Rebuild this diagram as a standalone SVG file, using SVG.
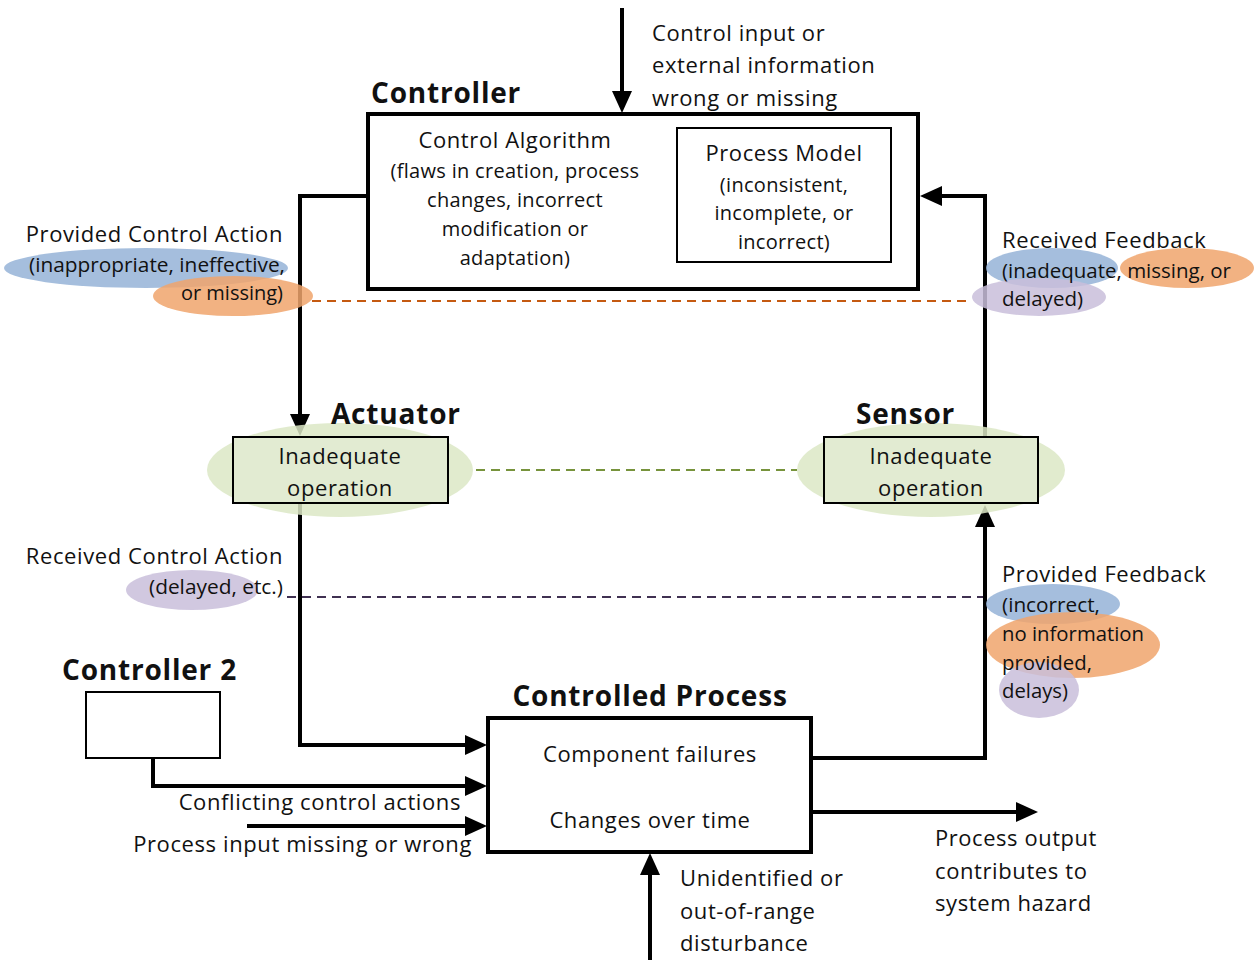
<svg xmlns="http://www.w3.org/2000/svg" width="1255" height="960" viewBox="0 0 1255 960">
  <style>
    text { font-family: "Open Sans", "Liberation Sans", sans-serif; fill: #111; }
    .t { font-size: 22px; letter-spacing: 0.6px; }
    .s { font-size: 20px; letter-spacing: 0.3px; }
    .n { font-size: 20.5px; letter-spacing: 0; }
    .h { font-size: 28px; font-weight: bold; letter-spacing: 0.8px; }
    .mid { text-anchor: middle; }
    .end { text-anchor: end; }
    .box { fill: #fff; stroke: #000; }
    .thick { stroke-width: 4; }
    .thin { stroke-width: 2; }
    .wire { fill: none; stroke: #000; stroke-width: 4; }
    .blue { fill: #95b3d7; fill-opacity: 0.85; }
    .orange { fill: #f0a46c; fill-opacity: 0.85; }
    .purple { fill: #c9bedb; fill-opacity: 0.85; }
    .halo { fill: #dce7c6; fill-opacity: 0.85; }
    .comp { fill: #e2ebd2; stroke: #000; stroke-width: 2; }
  </style>
  <defs>
    <!-- arrowhead: tip sits 10px past the end of the line -->
    <marker id="arrow" markerWidth="22" markerHeight="20" refX="12" refY="10" orient="auto" markerUnits="userSpaceOnUse">
      <path d="M0,0 L22,10 L0,20 Z" fill="#000"/>
    </marker>
  </defs>

  <rect width="1255" height="960" fill="#fff"/>

  <!-- dashed links between flaw annotations -->
  <g id="dashes" fill="none" stroke-width="2" stroke-dasharray="9,6">
    <line x1="312" y1="301" x2="972" y2="301" stroke="#c55a11"/>
    <line x1="476" y1="470" x2="797" y2="470" stroke="#77933c"/>
    <line x1="287" y1="597" x2="990" y2="597" stroke="#403152"/>
  </g>

  <!-- connectors -->
  <g id="connectors">
    <line class="wire" x1="622" y1="8" x2="622" y2="103" marker-end="url(#arrow)"/>
    <polyline class="wire" points="368,196 300,196 300,426" marker-end="url(#arrow)"/>
    <polyline class="wire" points="985,436 985,196 930,196" marker-end="url(#arrow)"/>
    <polyline class="wire" points="300,503 300,745 477,745" marker-end="url(#arrow)"/>
    <polyline class="wire" points="153,758 153,786 477,786" marker-end="url(#arrow)"/>
    <line class="wire" x1="247" y1="826" x2="477" y2="826" marker-end="url(#arrow)"/>
    <polyline class="wire" points="811,758 985,758 985,515" marker-end="url(#arrow)"/>
    <line class="wire" x1="811" y1="812" x2="1028" y2="812" marker-end="url(#arrow)"/>
    <line class="wire" x1="650" y1="960" x2="650" y2="863" marker-end="url(#arrow)"/>
  </g>

  <!-- external labels -->
  <g id="control-input-label">
    <text class="t" x="652" y="41">Control input or</text>
    <text class="t" x="652" y="73">external information</text>
    <text class="t" x="652" y="106">wrong or missing</text>
  </g>

  <!-- controller -->
  <g id="controller">
    <text class="h" x="371" y="103">Controller</text>
    <rect class="box thick" x="368" y="114" width="550" height="175"/>
    <text class="t mid" x="515" y="148">Control Algorithm</text>
    <text class="s mid" x="515" y="178">(flaws in creation, process</text>
    <text class="s mid" x="515" y="207">changes, incorrect</text>
    <text class="s mid" x="515" y="236">modification or</text>
    <text class="s mid" x="515" y="265">adaptation)</text>
  </g>
  <g id="process-model">
    <rect class="box thin" x="677" y="128" width="214" height="134"/>
    <text class="t mid" x="784" y="161">Process Model</text>
    <text class="s mid" x="784" y="192">(inconsistent,</text>
    <text class="s mid" x="784" y="220">incomplete, or</text>
    <text class="s mid" x="784" y="249">incorrect)</text>
  </g>

  <!-- provided control action -->
  <g id="provided-control-action">
    <ellipse class="blue" cx="146" cy="268" rx="142" ry="20"/>
    <ellipse class="orange" cx="233" cy="296" rx="80" ry="20"/>
    <text class="t end" x="283" y="242">Provided Control Action</text>
    <text class="n end" x="285" y="272" textLength="256" lengthAdjust="spacingAndGlyphs">(inappropriate, ineffective,</text>
    <text class="n end" x="283" y="300" textLength="102" lengthAdjust="spacingAndGlyphs">or missing)</text>
  </g>

  <!-- received feedback -->
  <g id="received-feedback">
    <ellipse class="blue" cx="1052" cy="268" rx="66" ry="20"/>
    <ellipse class="orange" cx="1187" cy="268" rx="67" ry="20"/>
    <ellipse class="purple" cx="1039" cy="297" rx="67" ry="19"/>
    <text class="t" x="1002" y="248">Received Feedback</text>
    <text class="n" x="1002" y="278" textLength="229" lengthAdjust="spacingAndGlyphs">(inadequate, missing, or</text>
    <text class="n" x="1002" y="306" textLength="81" lengthAdjust="spacingAndGlyphs">delayed)</text>
  </g>

  <!-- actuator -->
  <g id="actuator">
    <ellipse class="halo" cx="340" cy="470" rx="133" ry="47"/>
    <text class="h" x="331" y="424">Actuator</text>
    <rect class="comp" x="233" y="437" width="215" height="66"/>
    <text class="t mid" x="340" y="464">Inadequate</text>
    <text class="t mid" x="340" y="496">operation</text>
  </g>

  <!-- sensor -->
  <g id="sensor">
    <ellipse class="halo" cx="931" cy="470" rx="134" ry="47"/>
    <text class="h" x="856" y="424">Sensor</text>
    <rect class="comp" x="824" y="437" width="214" height="66"/>
    <text class="t mid" x="931" y="464">Inadequate</text>
    <text class="t mid" x="931" y="496">operation</text>
  </g>

  <!-- received control action -->
  <g id="received-control-action">
    <ellipse class="purple" cx="192" cy="590" rx="66" ry="20"/>
    <text class="t end" x="283" y="564">Received Control Action</text>
    <text class="n end" x="283" y="594" textLength="134" lengthAdjust="spacingAndGlyphs">(delayed, etc.)</text>
  </g>

  <!-- provided feedback -->
  <g id="provided-feedback">
    <ellipse class="blue" cx="1053" cy="604" rx="67" ry="20"/>
    <ellipse class="orange" cx="1073" cy="645" rx="87" ry="33"/>
    <ellipse class="purple" cx="1039" cy="690" rx="40" ry="28"/>
    <text class="t" x="1002" y="582">Provided Feedback</text>
    <text class="n" x="1002" y="612" textLength="98" lengthAdjust="spacingAndGlyphs">(incorrect,</text>
    <text class="n" x="1002" y="641" textLength="142" lengthAdjust="spacingAndGlyphs">no information</text>
    <text class="n" x="1002" y="670" textLength="90" lengthAdjust="spacingAndGlyphs">provided,</text>
    <text class="n" x="1002" y="698" textLength="66" lengthAdjust="spacingAndGlyphs">delays)</text>
  </g>

  <!-- controller 2 -->
  <g id="controller-2">
    <text class="h" x="62" y="680">Controller 2</text>
    <rect class="box thin" x="86" y="692" width="134" height="66"/>
  </g>

  <g id="input-labels">
    <text class="t end" x="461" y="810">Conflicting control actions</text>
    <text class="t end" x="472" y="852">Process input missing or wrong</text>
  </g>

  <!-- controlled process -->
  <g id="controlled-process">
    <text class="h mid" x="650" y="706">Controlled Process</text>
    <rect class="box thick" x="488" y="718" width="323" height="134"/>
    <text class="t mid" x="650" y="762">Component failures</text>
    <text class="t mid" x="650" y="828">Changes over time</text>
  </g>

  <g id="output-labels">
    <text class="t" x="935" y="846" textLength="162" lengthAdjust="spacingAndGlyphs">Process output</text>
    <text class="t" x="935" y="879">contributes to</text>
    <text class="t" x="935" y="911">system hazard</text>
    <text class="t" x="680" y="886">Unidentified or</text>
    <text class="t" x="680" y="919">out-of-range</text>
    <text class="t" x="680" y="951">disturbance</text>
  </g>
</svg>
